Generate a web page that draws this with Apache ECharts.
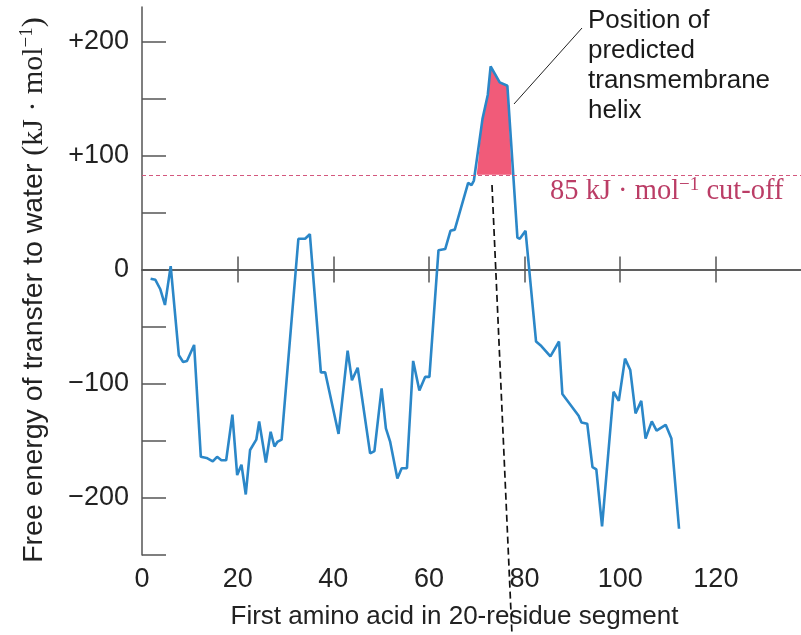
<!DOCTYPE html>
<html><head><meta charset="utf-8">
<script src="https://cdn.jsdelivr.net/npm/echarts@6/dist/echarts.min.js"></script>
<style>html,body{margin:0;padding:0;background:#fff}#c{width:801px;height:635px}</style>
</head><body><div id="c"></div>
<script>
// First amino acid of each 20-residue segment
const residue = [1.8, 2.8, 3.8, 4.8, 6.0, 7.7, 8.6, 9.4, 10.9, 12.3, 13.5, 14.8, 15.7, 16.6, 17.6, 18.9, 19.9, 20.8, 21.7, 22.6, 23.9, 24.5, 25.9, 26.9, 27.7, 28.3, 29.2, 32.7, 34.1, 35.1, 37.4, 38.3, 41.1, 43.0, 43.9, 45.1, 47.7, 48.6, 50.1, 51.0, 51.9, 53.4, 54.3, 55.4, 56.7, 58.0, 59.2, 60.1, 62.0, 63.4, 64.5, 65.4, 68.2, 68.9, 69.4, 71.2, 72.3, 72.9, 74.8, 76.4, 78.5, 79.0, 80.2, 82.4, 83.5, 85.4, 87.2, 87.9, 91.3, 91.9, 93.1, 94.2, 95.0, 96.2, 98.6, 99.7, 101.0, 102.1, 103.2, 104.4, 105.3, 106.6, 107.6, 109.5, 110.7, 112.3];
// Free energy of transfer to water (kJ/mol)
const energy = [-8, -9, -17, -31, 3, -75, -81, -80, -66, -164, -165, -168, -164, -167, -167, -127, -180, -171, -197, -158, -149, -133, -169, -142, -155, -151, -149, 27, 27, 31, -90, -90, -144, -71, -97, -86, -161, -159, -104, -139, -151, -183, -174, -174, -80, -106, -94, -94, 17, 18, 34, 35, 76, 74, 78, 132, 153, 178, 164, 161, 28, 27, 34, -63, -67, -76, -63, -109, -128, -134, -135, -173, -175, -225, -107, -115, -78, -88, -126, -115, -148, -133, -141, -136, -148, -227];
// Part of the profile above the cut-off (predicted transmembrane helix)
const helixResidue = [70.0, 71.2, 72.3, 72.9, 74.8, 76.4, 77.3];
const helixEnergy = [83, 132, 153, 178, 164, 161, 83];
const cutoff = 83;
const yTickValues = [-250, -200, -150, -100, -50, 0, 50, 100, 150, 200];
const yLabelValues = [-200, -100, 0, 100, 200];
const xTickValues = [20, 40, 60, 80, 100, 120];
const xLabelValues = [0, 20, 40, 60, 80, 100, 120];

const mainData = residue.map((r, i) => [r, energy[i]]);
const helixData = helixResidue.map((r, i) => [r, helixEnergy[i]]);

const chart = echarts.init(document.getElementById('c'), null, {renderer: 'canvas'});
const axisColor = '#555';
const SANS = 'Liberation Sans, Arial, sans-serif';
const SERIF = 'Liberation Serif, DejaVu Serif, serif';
const xBase = {type: 'value', min: 0, max: 137.8, interval: 20, splitLine: {show: false}};

chart.setOption({
  animation: false,
  backgroundColor: '#fff',
  grid: {left: 142, right: 0, top: 7, bottom: 78, containLabel: false},
  xAxis: [
    Object.assign({}, xBase, {
      position: 'bottom',
      axisLine: {show: true, onZero: true, onZeroAxisIndex: 0, lineStyle: {color: axisColor, width: 1.5}},
      axisTick: {show: true, inside: false, length: 13, customValues: xTickValues, lineStyle: {color: axisColor, width: 1.5}},
      axisLabel: {show: false}
    }),
    Object.assign({}, xBase, {
      position: 'top',
      axisLine: {show: true, onZero: true, onZeroAxisIndex: 0, lineStyle: {color: axisColor, width: 1.5}},
      axisTick: {show: true, inside: false, length: 13, customValues: xTickValues, lineStyle: {color: axisColor, width: 1.5}},
      axisLabel: {show: false}
    }),
    Object.assign({}, xBase, {
      position: 'bottom',
      axisLine: {show: false, onZero: false},
      axisTick: {show: false},
      axisLabel: {show: true, customValues: xLabelValues, margin: 11, fontSize: 27, color: '#222', fontFamily: SANS},
      name: 'First amino acid in 20-residue segment',
      nameLocation: 'middle',
      nameGap: 49,
      nameTextStyle: {fontSize: 26, color: '#222', fontFamily: SANS, padding: [0, 34, 0, 0]}
    })
  ],
  yAxis: {
    type: 'value', min: -250, max: 230, interval: 50,
    axisLine: {show: true, onZero: false, lineStyle: {color: axisColor, width: 1.5}},
    axisTick: {show: true, inside: true, length: 24, customValues: yTickValues, lineStyle: {color: axisColor, width: 1.5}},
    axisLabel: {
      customValues: yLabelValues, margin: 13, fontSize: 27, color: '#222', fontFamily: SANS,
      formatter: v => v > 0 ? '+' + v : (v < 0 ? '\u2212' + (-v) : '0')
    },
    splitLine: {show: false},
    name: '{a|Free energy of transfer to water }{b|(kJ \u00b7 mol}{s|\u22121}{b|)}',
    nameLocation: 'middle',
    nameRotate: 90,
    nameGap: 92,
    nameTextStyle: {
      color: '#222',
      padding: [0, 18, 0, 0],
      rich: {
        a: {fontSize: 28.5, fontFamily: SANS, color: '#222', lineHeight: 32},
        b: {fontSize: 30, fontFamily: SERIF, color: '#222', lineHeight: 32},
        s: {fontSize: 19, fontFamily: SERIF, color: '#222', verticalAlign: 'top', lineHeight: 32, padding: [0, 0, 12, 0]}
      }
    }
  },
  series: [
    {
      type: 'line', xAxisIndex: 0, data: helixData, showSymbol: false, silent: true,
      lineStyle: {width: 0}, itemStyle: {color: '#f15b79'},
      areaStyle: {color: '#f15b79', opacity: 1, origin: cutoff}, z: 2
    },
    {
      type: 'line', xAxisIndex: 0, data: mainData, showSymbol: false, silent: true,
      lineStyle: {color: '#2b87c8', width: 2.6}, itemStyle: {color: '#2b87c8'}, z: 4,
      markLine: {
        silent: true, symbol: 'none', animation: false,
        label: {show: false},
        lineStyle: {color: '#d4587e', type: [4, 3], width: 1.1, opacity: 1},
        emphasis: {disabled: true},
        data: [{yAxis: cutoff}]
      }
    }
  ],
  graphic: [
    {type: 'line', z: 10, shape: {x1: 492, y1: 185, x2: 512, y2: 635}, style: {stroke: '#111', lineWidth: 1.7, lineDash: [7, 4]}},
    {type: 'line', z: 10, shape: {x1: 514, y1: 104, x2: 582, y2: 28}, style: {stroke: '#222', lineWidth: 1}},
    {type: 'text', z: 10, left: 588, top: 6, style: {
      text: 'Position of\npredicted\ntransmembrane\nhelix', fontSize: 26, lineHeight: 30, fontFamily: SANS, fill: '#1a1a1a'}},
    {type: 'text', z: 10, left: 550, top: 176, style: {
      text: '{a|85 kJ \u00b7 mol}{s|\u22121}{a| cut-off}',
      rich: {
        a: {fontSize: 28.5, fontFamily: SERIF, fill: '#bb3d66', color: '#bb3d66', lineHeight: 32},
        s: {fontSize: 19, fontFamily: SERIF, fill: '#bb3d66', color: '#bb3d66', verticalAlign: 'top', lineHeight: 32, padding: [0, 0, 12, 0]}
      }}}
  ]
});
</script></body></html>
